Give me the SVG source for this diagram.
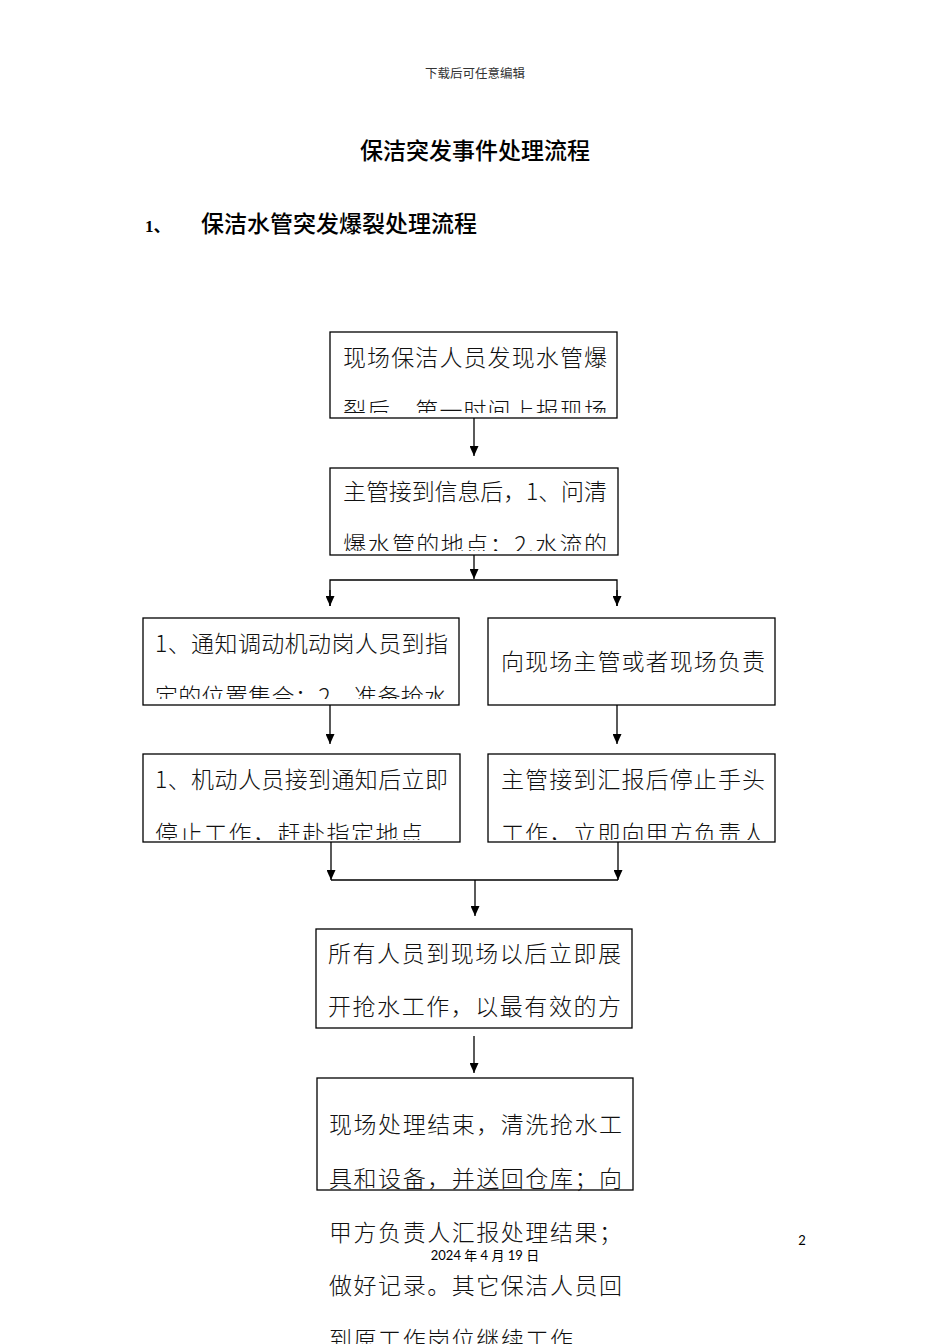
<svg xmlns="http://www.w3.org/2000/svg" width="950" height="1344" viewBox="0 0 950 1344">
<style>
.box{fill:#fff;stroke:#000;stroke-width:1.3}
.t{font-family:"Noto Sans CJK SC","Noto Sans",sans-serif;font-size:23px;font-weight:300;fill:#111}
.c{fill:none;stroke:#000;stroke-width:1.3}
</style>
<defs>
<marker id="ah" markerUnits="userSpaceOnUse" markerWidth="10" markerHeight="9" refX="10" refY="4.5" orient="auto">
<path d="M0,0 L10,4.5 L0,9 z" fill="#000"/>
</marker>
<clipPath id="c1"><rect x="331" y="333" width="286" height="80"/></clipPath>
<clipPath id="c2"><rect x="331" y="469" width="287" height="82"/></clipPath>
<clipPath id="c3"><rect x="144" y="619" width="315" height="80"/></clipPath>
<clipPath id="c4"><rect x="489" y="619" width="286" height="84"/></clipPath>
<clipPath id="c5"><rect x="144" y="755" width="316" height="85"/></clipPath>
<clipPath id="c6"><rect x="489" y="755" width="286" height="85"/></clipPath>
<clipPath id="c7"><rect x="317" y="930" width="315" height="97"/></clipPath>
</defs>
<rect width="950" height="1344" fill="#fff"/>
<text x="475" y="78" text-anchor="middle" font-family="Noto Sans CJK SC,sans-serif" font-size="12.5" fill="#333">下载后可任意编辑</text>
<text x="475" y="159" text-anchor="middle" font-family="Noto Sans CJK SC,sans-serif" font-size="23" font-weight="500">保洁突发事件处理流程</text>
<text x="145" y="232" font-family="Liberation Serif,serif" font-size="17" font-weight="bold">1<tspan font-family="Noto Sans CJK SC,sans-serif">、</tspan></text>
<text x="201" y="232" font-family="Noto Sans CJK SC,sans-serif" font-size="23" font-weight="500">保洁水管突发爆裂处理流程</text>

<g id="connectors">
<line class="c" x1="474" y1="418" x2="474" y2="456" marker-end="url(#ah)"/>
<line class="c" x1="474" y1="555" x2="474" y2="579" marker-end="url(#ah)"/>
<polyline class="c" points="330,606 330,580 617,580 617,606"/>
<line class="c" x1="330" y1="590" x2="330" y2="606" marker-end="url(#ah)"/>
<line class="c" x1="617" y1="590" x2="617" y2="606" marker-end="url(#ah)"/>
<line class="c" x1="330" y1="705" x2="330" y2="744" marker-end="url(#ah)"/>
<line class="c" x1="617" y1="705" x2="617" y2="744" marker-end="url(#ah)"/>
<line class="c" x1="331" y1="842" x2="331" y2="880" marker-end="url(#ah)"/>
<line class="c" x1="618" y1="842" x2="618" y2="880" marker-end="url(#ah)"/>
<line class="c" x1="331" y1="880" x2="618" y2="880"/>
<line class="c" x1="475" y1="880" x2="475" y2="916" marker-end="url(#ah)"/>
<line class="c" x1="474" y1="1036" x2="474" y2="1073" marker-end="url(#ah)"/>
</g>

<g id="n1">
<rect class="box" x="330" y="332" width="287" height="86"/>
<g clip-path="url(#c1)">
<text class="t" x="343" y="366" textLength="264" lengthAdjust="spacing">现场保洁人员发现水管爆</text>
<text class="t" x="343" y="419" textLength="264" lengthAdjust="spacing">裂后，第一时间上报现场</text>
</g>
</g>
<g id="n2">
<rect class="box" x="330" y="468" width="288" height="87"/>
<g clip-path="url(#c2)">
<text class="t" x="343" y="500" textLength="264" lengthAdjust="spacing">主管接到信息后，1、问清</text>
<text class="t" x="343" y="553" textLength="264" lengthAdjust="spacing">爆水管的地点；2.水流的</text>
</g>
</g>
<g id="n3">
<rect class="box" x="143" y="618" width="316" height="87"/>
<g clip-path="url(#c3)">
<text class="t" x="155" y="652" textLength="293" lengthAdjust="spacing">1、通知调动机动岗人员到指</text>
<text class="t" x="155" y="705" textLength="292" lengthAdjust="spacing">定的位置集合；2、准备抢水</text>
</g>
</g>
<g id="n4">
<rect class="box" x="488" y="618" width="287" height="87"/>
<g clip-path="url(#c4)">
<text class="t" x="501" y="670" textLength="264" lengthAdjust="spacing">向现场主管或者现场负责</text>
</g>
</g>
<g id="n5">
<rect class="box" x="143" y="754" width="317" height="88"/>
<g clip-path="url(#c5)">
<text class="t" x="155" y="788" textLength="293" lengthAdjust="spacing">1、机动人员接到通知后立即</text>
<text class="t" x="155" y="842" textLength="268" lengthAdjust="spacing">停止工作，赶赴指定地点</text>
</g>
</g>
<g id="n6">
<rect class="box" x="488" y="754" width="287" height="88"/>
<g clip-path="url(#c6)">
<text class="t" x="501" y="788" textLength="264" lengthAdjust="spacing">主管接到汇报后停止手头</text>
<text class="t" x="501" y="842" textLength="264" lengthAdjust="spacing">工作，立即向甲方负责人</text>
</g>
</g>
<g id="n7">
<rect class="box" x="316" y="929" width="316" height="99"/>
<g clip-path="url(#c7)">
<text class="t" x="328" y="962" textLength="293" lengthAdjust="spacing">所有人员到现场以后立即展</text>
<text class="t" x="328" y="1015" textLength="293" lengthAdjust="spacing">开抢水工作，以最有效的方</text>
</g>
</g>
<g id="n8">
<rect class="box" x="317" y="1078" width="316" height="112"/>
<text class="t" x="329" y="1133" textLength="293" lengthAdjust="spacing">现场处理结束，清洗抢水工</text>
<text class="t" x="329" y="1187" textLength="293" lengthAdjust="spacing">具和设备，并送回仓库；向</text>
<text class="t" x="329" y="1241" textLength="293" lengthAdjust="spacing">甲方负责人汇报处理结果；</text>
<text class="t" x="329" y="1294" textLength="293" lengthAdjust="spacing">做好记录。其它保洁人员回</text>
<text class="t" x="329" y="1348" textLength="244" lengthAdjust="spacing">到原工作岗位继续工作</text>
</g>

<text x="485" y="1260" text-anchor="middle" font-family="Lato,Noto Sans CJK SC,sans-serif" font-size="13">2024 年 4 月 19 日</text>
<text x="802" y="1245" text-anchor="middle" font-family="Lato,sans-serif" font-size="13">2</text>
</svg>
